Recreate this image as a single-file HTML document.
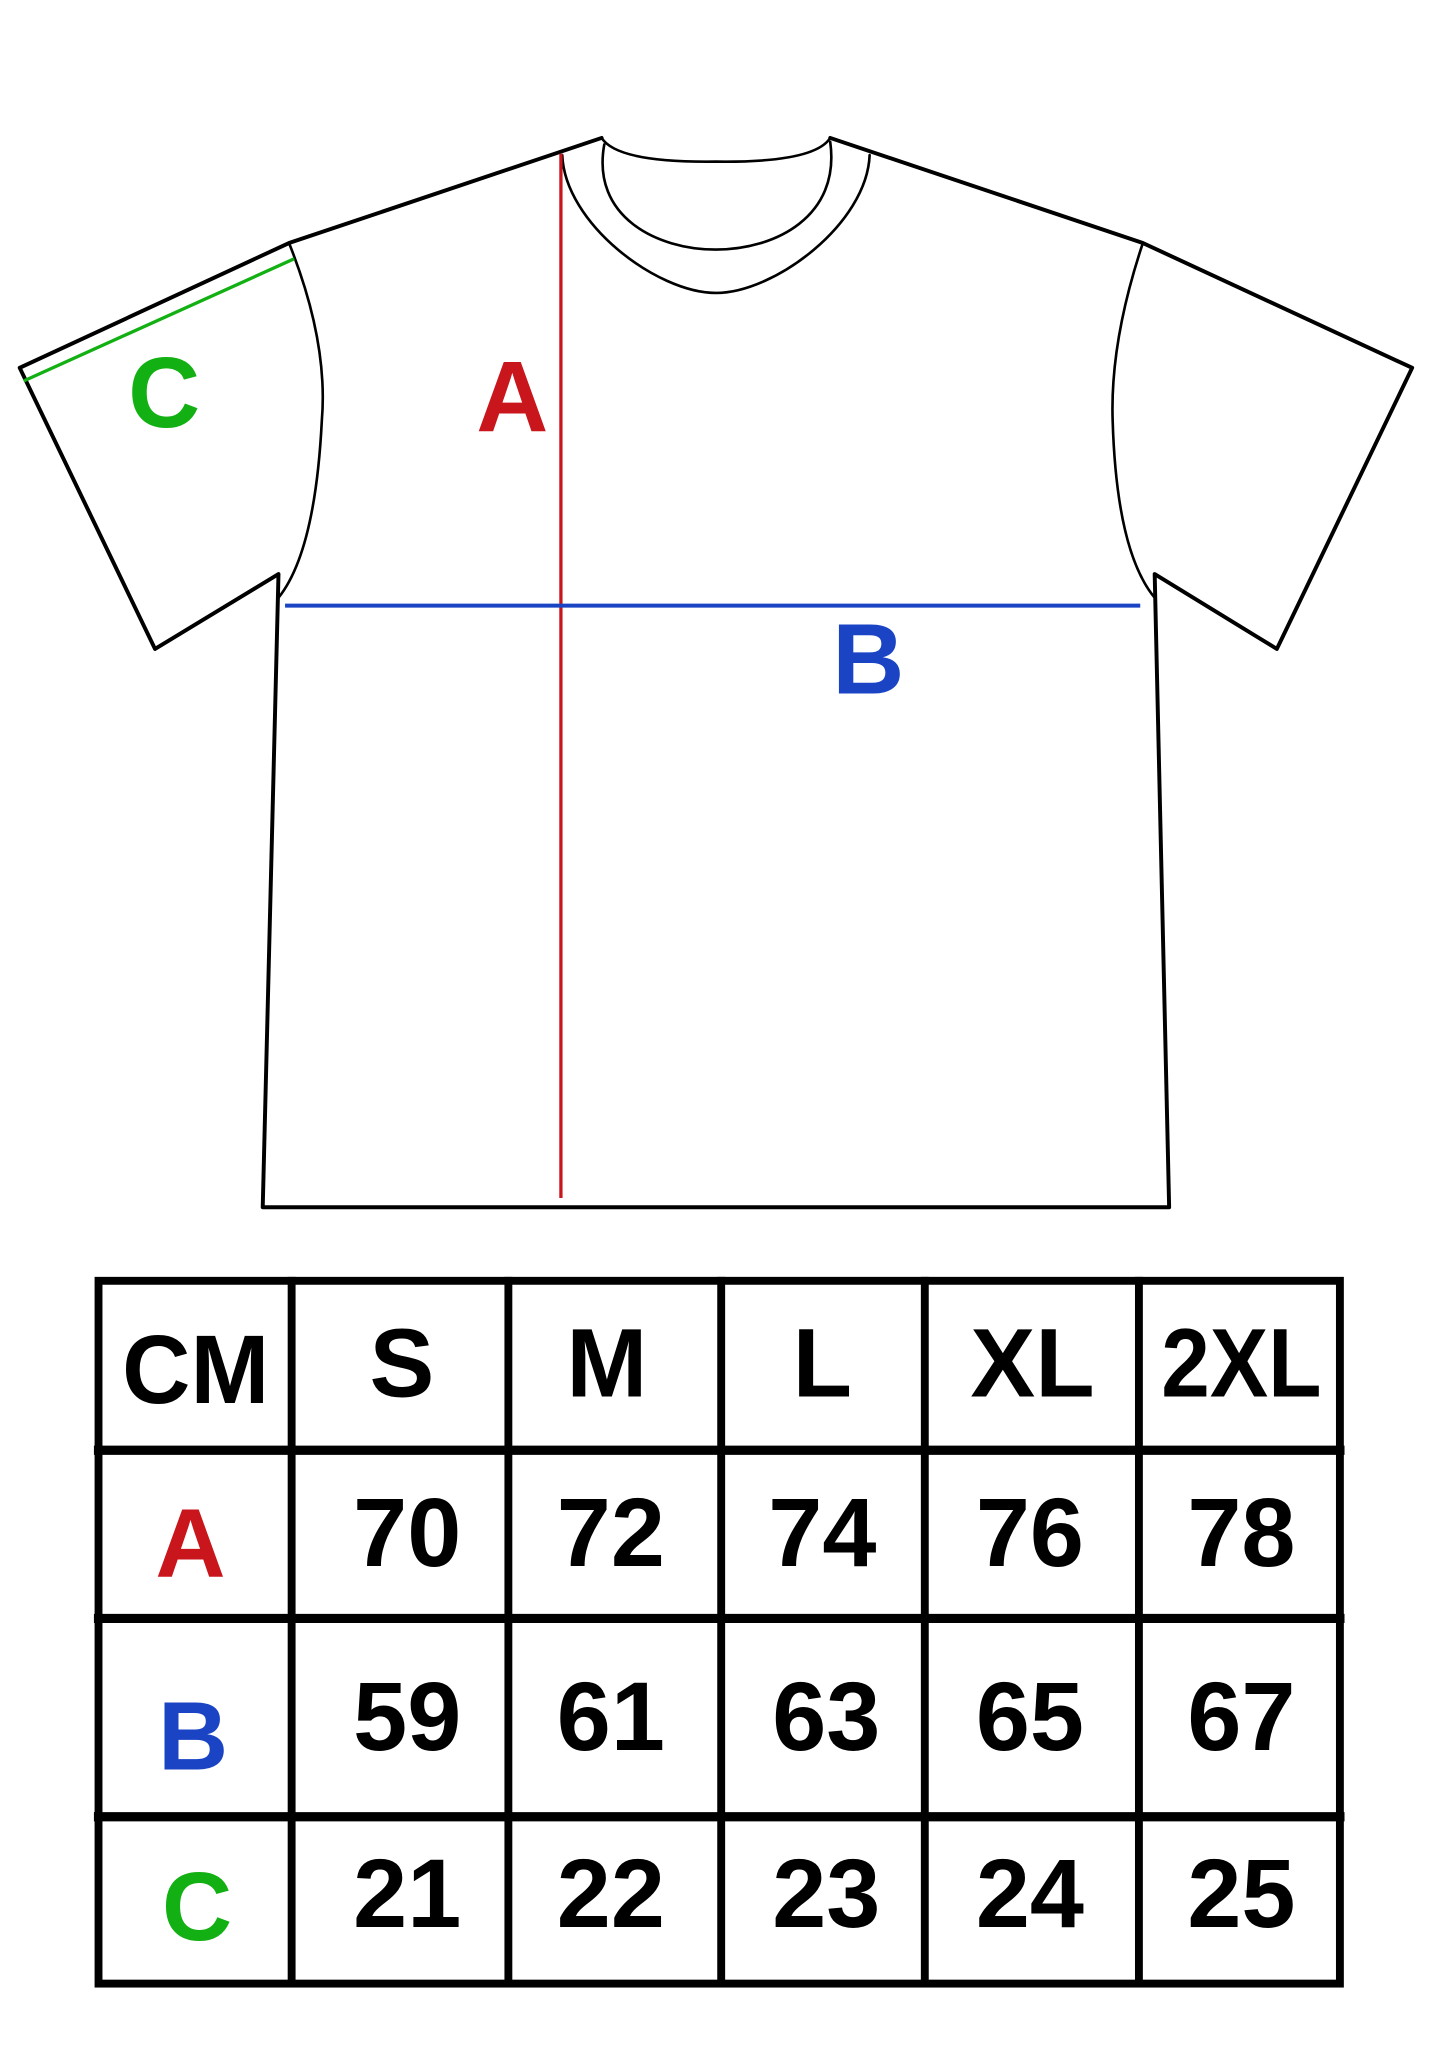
<!DOCTYPE html>
<html><head><meta charset="utf-8"><style>html,body{margin:0;padding:0;background:#fff}svg{display:block}</style></head>
<body>
<svg width="1445" height="2069" viewBox="0 0 1100 1575" xmlns="http://www.w3.org/2000/svg">
<rect width="1100" height="1575" fill="#fff"/>
<g fill="none" stroke="#000" stroke-linejoin="round" stroke-linecap="round">
<path d="M458,105 L220,185 L15,280 L118,494 L212,437 L200,919 L890,919 L879,437 L972,494 L1075,280 L870,185 L632,105" stroke-width="3"/>
<path d="M458,105 Q470,124 545,123 Q620,124 632,105" stroke-width="2"/>
<path d="M460,110 C450,165 500,190 545,190 C590,190 640,165 632,108" stroke-width="2"/>
<path d="M428,118 C430,170 500,223 545,223 C590,223 660,170 662,118" stroke-width="2"/>
<path d="M220,185 Q250,260 245,320 Q240,420 212,455" stroke-width="2"/>
<path d="M870,185 Q845,260 847,320 Q850,420 879,455" stroke-width="2"/>
</g>
<line x1="427" y1="117" x2="427" y2="912" stroke="#c8161c" stroke-width="2.5"/>
<line x1="217" y1="461" x2="868" y2="461" stroke="#1a44c4" stroke-width="3"/>
<line x1="18" y1="290" x2="224" y2="197" stroke="#12b012" stroke-width="2.5"/>
<g font-family="Liberation Sans, sans-serif" font-weight="bold" font-size="76">
<text x="125" y="325" fill="#12b012" text-anchor="middle">C</text>
<text x="390" y="328" fill="#c8161c" text-anchor="middle">A</text>
<text x="661" y="528" fill="#1a44c4" text-anchor="middle">B</text>
</g>
<g stroke="#000" stroke-width="6" stroke-linecap="square" fill="none">
<rect x="75" y="975" width="945" height="535"/>
<line x1="222" y1="975" x2="222" y2="1510"/>
<line x1="387" y1="975" x2="387" y2="1510"/>
<line x1="549" y1="975" x2="549" y2="1510"/>
<line x1="704" y1="975" x2="704" y2="1510"/>
<line x1="867" y1="975" x2="867" y2="1510"/>
<line x1="75" y1="1104" x2="1020" y2="1104" stroke-width="7"/>
<line x1="75" y1="1232" x2="1020" y2="1232" stroke-width="7"/>
<line x1="75" y1="1383" x2="1020" y2="1383" stroke-width="7"/>
</g>
<g font-family="Liberation Sans, sans-serif" font-weight="bold" font-size="74" text-anchor="middle" fill="#000">
<text x="149" y="1068" textLength="112" lengthAdjust="spacingAndGlyphs">CM</text>
<text x="306" y="1063">S</text>
<text x="462" y="1063">M</text>
<text x="626" y="1063">L</text>
<text x="786" y="1063">XL</text>
<text x="945" y="1063" textLength="122" lengthAdjust="spacingAndGlyphs">2XL</text>
<text x="145" y="1200" fill="#c8161c">A</text>
<text x="310" y="1192">70</text>
<text x="465" y="1192">72</text>
<text x="626" y="1192">74</text>
<text x="784" y="1192">76</text>
<text x="945" y="1192">78</text>
<text x="147" y="1347" fill="#1a44c4">B</text>
<text x="310" y="1332">59</text>
<text x="465" y="1332">61</text>
<text x="629" y="1332">63</text>
<text x="784" y="1332">65</text>
<text x="945" y="1332">67</text>
<text x="150" y="1477" fill="#12b012">C</text>
<text x="310" y="1467">21</text>
<text x="465" y="1467">22</text>
<text x="629" y="1467">23</text>
<text x="784" y="1467">24</text>
<text x="945" y="1467">25</text>
</g>
</svg>
</body></html>
